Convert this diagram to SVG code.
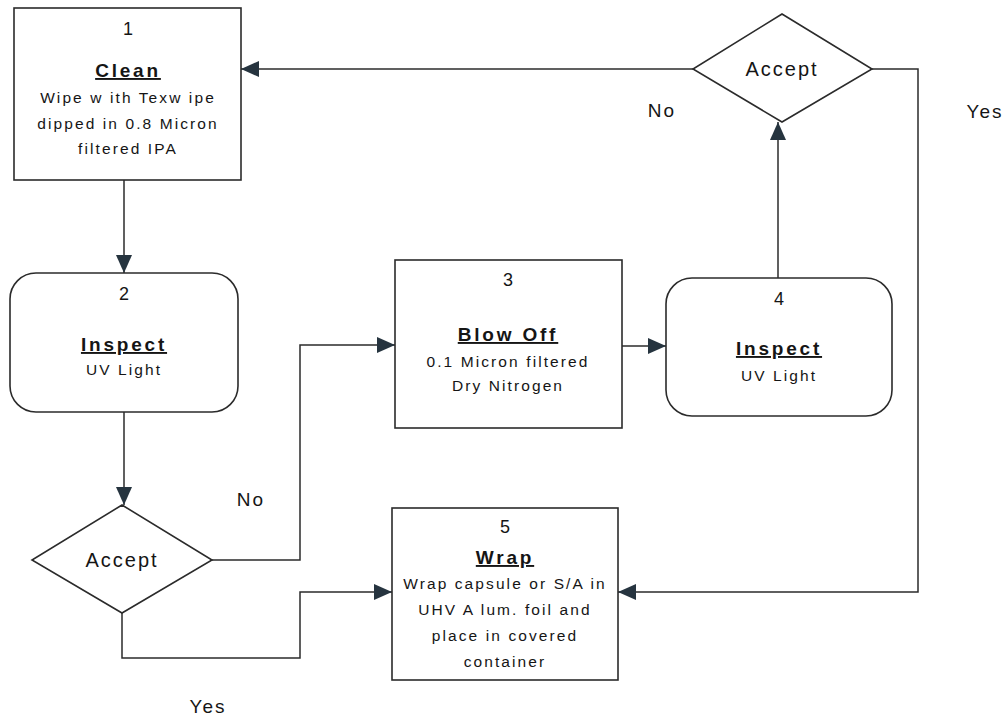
<svg xmlns="http://www.w3.org/2000/svg" width="1008" height="717" viewBox="0 0 1008 717">
<style>
text{font-family:"Liberation Sans",Arial,sans-serif;fill:#151515;text-anchor:middle}
.num{font-size:18px}
.ttl{font-size:19px;font-weight:bold;letter-spacing:2.8px;text-decoration:underline}
.body{font-size:15.5px;letter-spacing:2.1px}
.lbl{font-size:19px;letter-spacing:2px}
.acc{font-size:20px;letter-spacing:2px}
.shape{fill:#fff;stroke:#2b2b2b;stroke-width:1.6}
.conn{fill:none;stroke:#2b2b2b;stroke-width:1.5}
</style>
<defs>
<marker id="ah" markerUnits="userSpaceOnUse" markerWidth="18" markerHeight="16" viewBox="0 0 18 16" refX="18" refY="8" orient="auto">
<path d="M0,0 L18,8 L0,16 Z" fill="#26343f"/>
</marker>
</defs>
<rect width="1008" height="717" fill="#fff"/>
<g id="connectors">
<path class="conn" d="M124,180 V273" marker-end="url(#ah)"/>
<path class="conn" d="M124,412 V505" marker-end="url(#ah)"/>
<path class="conn" d="M212,560 H300 V345 H395" marker-end="url(#ah)"/>
<path class="conn" d="M122,613 V658 H300 V592 H392" marker-end="url(#ah)"/>
<path class="conn" d="M622,346 H666" marker-end="url(#ah)"/>
<path class="conn" d="M778,278 V122" marker-end="url(#ah)"/>
<path class="conn" d="M693,69 H241" marker-end="url(#ah)"/>
<path class="conn" d="M872,69 H918 V592 H618" marker-end="url(#ah)"/>
</g>
<g id="node1">
<rect class="shape" x="14" y="8" width="227" height="172"/>
<text class="num" x="128" y="35">1</text>
<text class="ttl" x="128" y="77">Clean</text>
<text class="body" x="128" y="103">Wipe w ith Texw ipe</text>
<text class="body" x="128" y="129">dipped in 0.8 Micron</text>
<text class="body" x="128" y="154">filtered IPA</text>
</g>
<g id="node2">
<rect class="shape" x="10" y="273" width="228" height="139" rx="26" ry="26"/>
<text class="num" x="124" y="300">2</text>
<text class="ttl" x="124" y="351">Inspect</text>
<text class="body" x="124" y="375">UV Light</text>
</g>
<g id="node3">
<rect class="shape" x="395" y="260" width="227" height="168"/>
<text class="num" x="508" y="286">3</text>
<text class="ttl" x="508" y="341">Blow Off</text>
<text class="body" x="508" y="367">0.1 Micron filtered</text>
<text class="body" x="508" y="391">Dry Nitrogen</text>
</g>
<g id="node4">
<rect class="shape" x="666" y="278" width="226" height="138" rx="26" ry="26"/>
<text class="num" x="779" y="305">4</text>
<text class="ttl" x="779" y="355">Inspect</text>
<text class="body" x="779" y="381">UV Light</text>
</g>
<g id="node5">
<rect class="shape" x="392" y="508" width="226" height="172"/>
<text class="num" x="505" y="533">5</text>
<text class="ttl" x="505" y="564">Wrap</text>
<text class="body" x="505" y="589">Wrap capsule or S/A in</text>
<text class="body" x="505" y="615">UHV A lum. foil and</text>
<text class="body" x="505" y="641">place in covered</text>
<text class="body" x="505" y="667">container</text>
</g>
<g id="decision1">
<polygon class="shape" points="122,505 212,560 122,613 32,560"/>
<text class="acc" x="122" y="567">Accept</text>
</g>
<g id="decision2">
<polygon class="shape" points="782,14 872,69 782,122 693,69"/>
<text class="acc" x="782" y="76">Accept</text>
</g>
<g id="labels">
<text class="lbl" x="251" y="506">No</text>
<text class="lbl" x="208" y="713">Yes</text>
<text class="lbl" x="662" y="117">No</text>
<text class="lbl" x="985" y="118">Yes</text>
</g>
</svg>
